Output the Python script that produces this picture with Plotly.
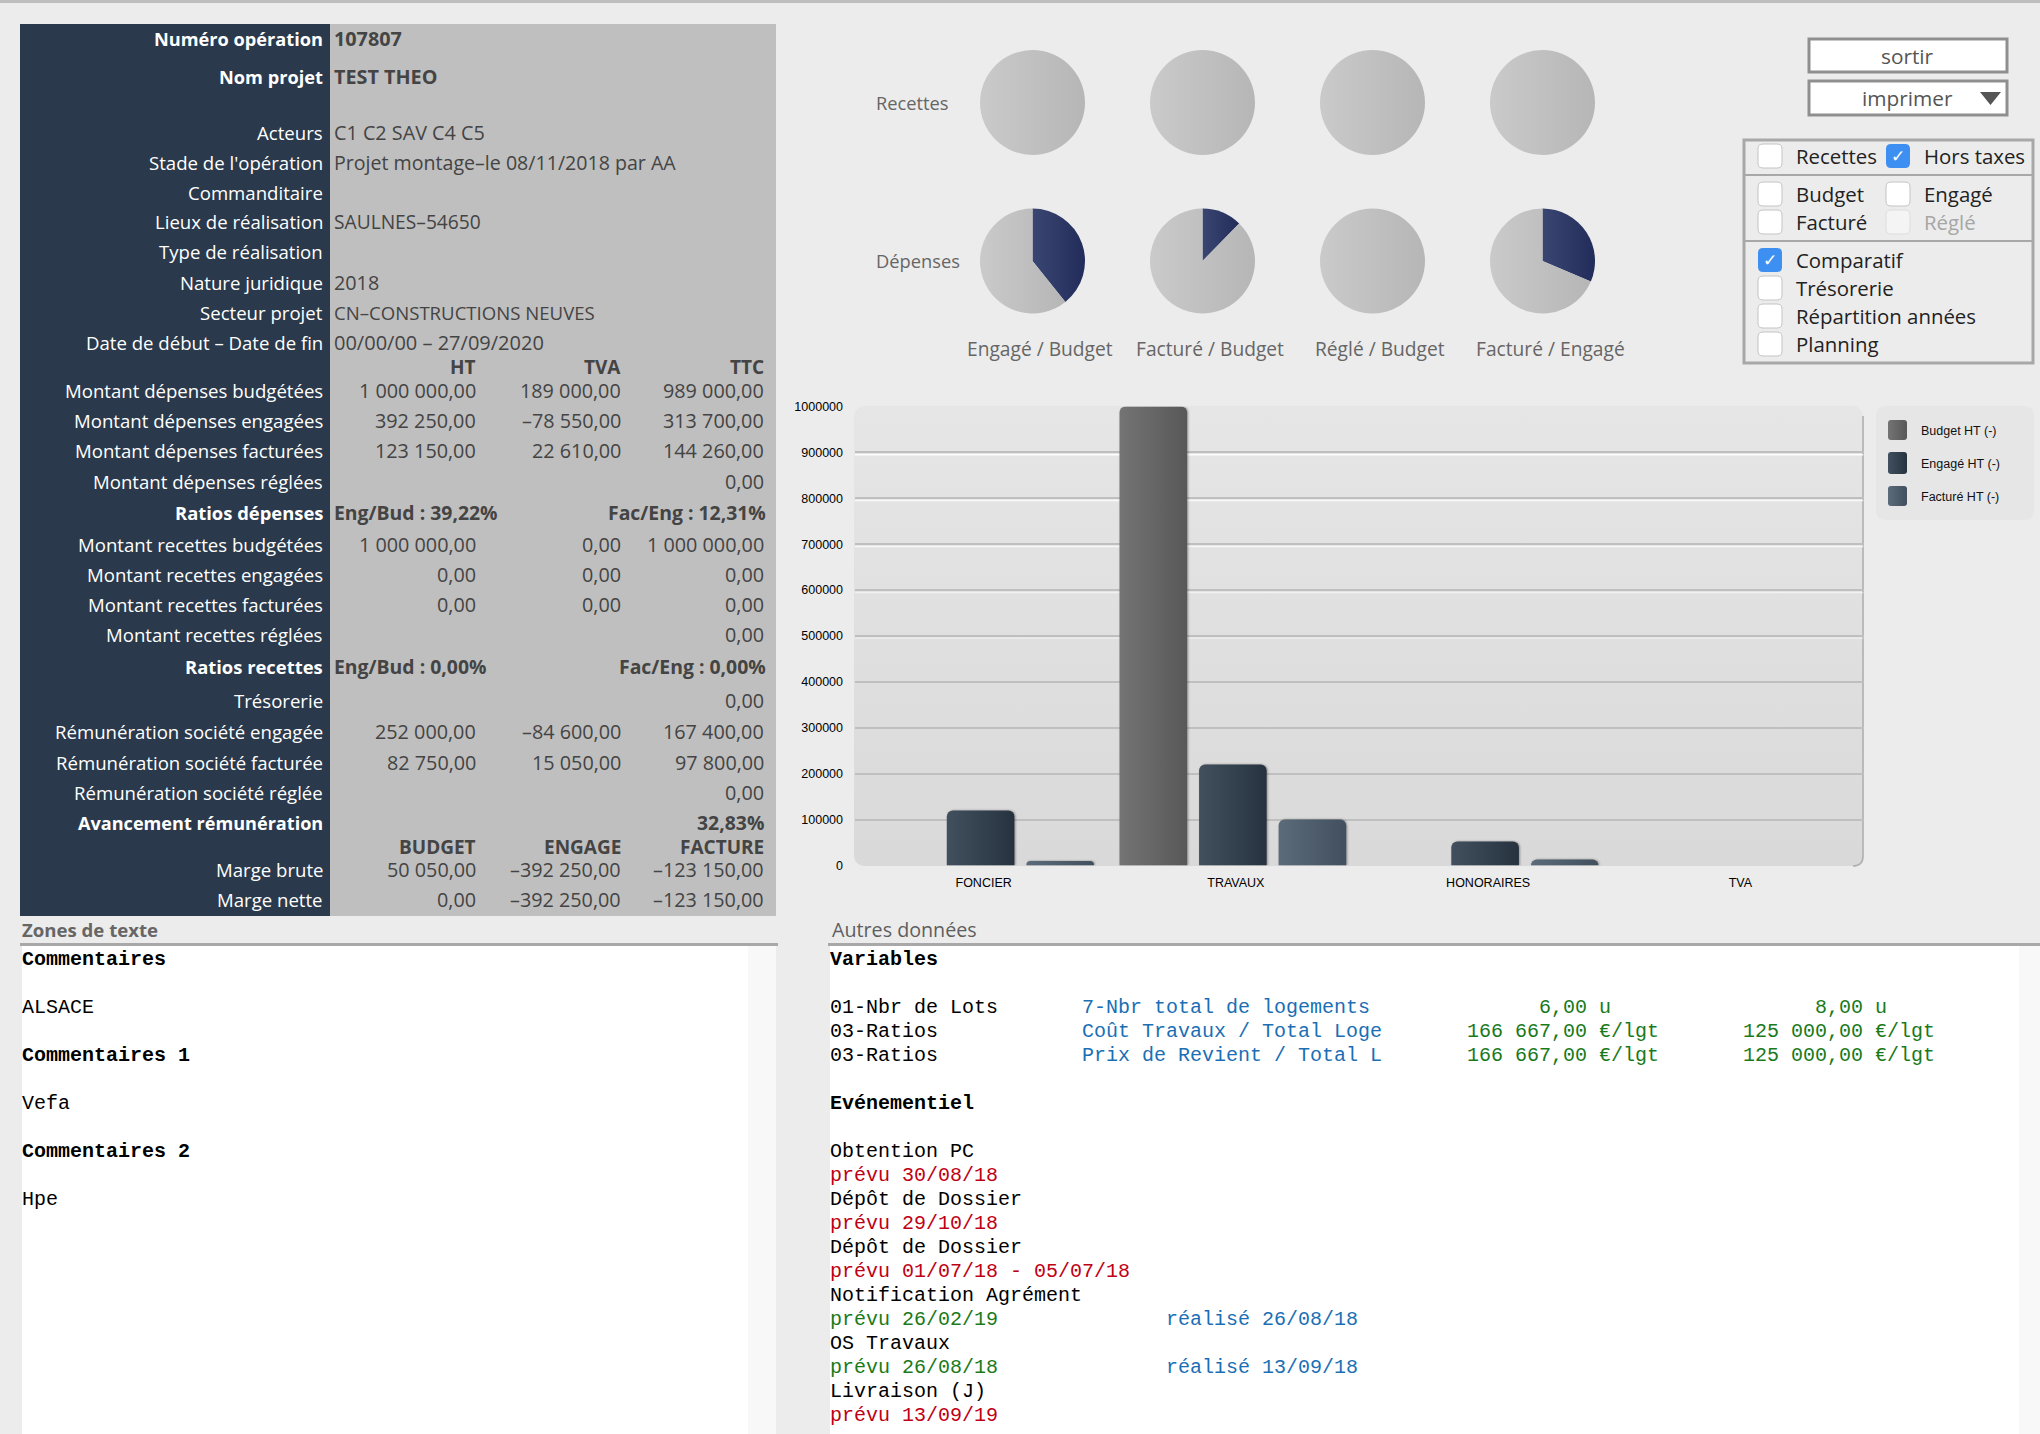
import base64
import plotly.graph_objects as go

W = 2040
H = 1434
SANS = "Open Sans"
MONO = "Liberation Mono"
ARIAL = "Liberation Sans"

# bar chart
categories = ["FONCIER", "TRAVAUX", "HONORAIRES", "TVA"]
budget_ht = [0, 1000000, 0, 0]
engage_ht = [120000, 220000, 52250, 0]
facture_ht = [10000, 100000, 13150, 0]
bar_names = ["Budget HT (-)", "Engagé HT (-)", "Facturé HT (-)"]
bar_colors = ["#666666", "#344250", "#4e5d6c"]
y_ticks = [0, 100000, 200000, 300000, 400000, 500000, 600000, 700000, 800000, 900000, 1000000]

# pies
pie_names = ["Engagé / Budget", "Facturé / Budget", "Réglé / Budget", "Facturé / Engagé"]
recettes_ratio = [0, 0, 0, 0]
depenses_ratio = [39.22, 12.31, 0, 31.4]

# table, top block
info_labels = ["Numéro opération", "Nom projet", "Acteurs", "Stade de l'opération", "Commanditaire",
               "Lieux de réalisation", "Type de réalisation", "Nature juridique", "Secteur projet",
               "Date de début – Date de fin"]
info_values = ["107807", "TEST THEO", "C1 C2 SAV C4 C5", "Projet montage–le 08/11/2018 par AA", "",
               "SAULNES–54650", "", "2018", "CN–CONSTRUCTIONS NEUVES", "00/00/00 – 27/09/2020"]
info_sizes = [19.8, 19.8, 19.8, 19.6, 19.8, 19.2, 19.8, 19.8, 18.6, 20]
info_y = [40, 78, 134, 164, 194, 223, 253, 284, 314, 344]

# table, amounts
amount_labels = ["Montant dépenses budgétées", "Montant dépenses engagées", "Montant dépenses facturées",
                 "Montant dépenses réglées", "Montant recettes budgétées", "Montant recettes engagées",
                 "Montant recettes facturées", "Montant recettes réglées", "Trésorerie",
                 "Rémunération société engagée", "Rémunération société facturée", "Rémunération société réglée",
                 "Marge brute", "Marge nette"]
amount_col1 = ["1 000 000,00", "392 250,00", "123 150,00", "", "1 000 000,00", "0,00", "0,00", "",
               "", "252 000,00", "82 750,00", "", "50 050,00", "0,00"]
amount_col2 = ["189 000,00", "–78 550,00", "22 610,00", "", "0,00", "0,00", "0,00", "",
               "", "–84 600,00", "15 050,00", "", "–392 250,00", "–392 250,00"]
amount_col3 = ["989 000,00", "313 700,00", "144 260,00", "0,00", "1 000 000,00", "0,00", "0,00", "0,00",
               "0,00", "167 400,00", "97 800,00", "0,00", "–123 150,00", "–123 150,00"]
amount_y = [392, 422, 452, 483, 546, 576, 606, 636, 702, 733, 764, 794, 871, 901]
col_right = [476, 621, 764]

header_top = ["HT", "TVA", "TTC"]
header_bottom = ["BUDGET", "ENGAGE", "FACTURE"]

# right hand checkboxes
check_labels = ["Recettes", "Hors taxes", "Budget", "Engagé", "Facturé", "Réglé",
                "Comparatif", "Trésorerie", "Répartition années", "Planning"]
check_on = [False, True, False, False, False, False, True, False, False, False]
check_x = [1770, 1898, 1770, 1898, 1770, 1898, 1770, 1770, 1770, 1770]
check_y = [156, 156, 194, 194, 222, 222, 260, 288, 316, 344]

# text zones
comment_lines = ["Commentaires", "ALSACE", "Commentaires 1", "Vefa", "Commentaires 2", "Hpe"]
comment_y = [961, 1009, 1057, 1105, 1153, 1201]

var_names = ["01-Nbr de Lots", "03-Ratios", "03-Ratios"]
var_titles = ["7-Nbr total de logements", "Coût Travaux / Total Loge", "Prix de Revient / Total L"]
var_val1 = ["6,00 u", "166 667,00 €/lgt", "166 667,00 €/lgt"]
var_val2 = ["8,00 u", "125 000,00 €/lgt", "125 000,00 €/lgt"]
var_y = [1009, 1033, 1057]

event_names = ["Obtention PC", "Dépôt de Dossier", "Dépôt de Dossier", "Notification Agrément", "OS Travaux", "Livraison (J)"]
event_prevu = ["prévu 30/08/18", "prévu 29/10/18", "prévu 01/07/18 - 05/07/18", "prévu 26/02/19", "prévu 26/08/18", "prévu 13/09/19"]
event_real = ["", "", "", "réalisé 26/08/18", "réalisé 13/09/18", ""]
event_y = [1153, 1201, 1249, 1297, 1345, 1393]

annotations = []
shapes = []


def px(x):
    return x / W


def py(y):
    return 1 - y / H


def add_text(x, y, text, size=18.6, color="#444444", font=SANS, anchor="left", bold=False):
    if bold:
        text = "<b>" + text + "</b>"
    annotations.append(dict(x=px(x), y=py(y - 1.4), xref="paper", yref="paper", text=text, showarrow=False,
                            xanchor=anchor, yanchor="middle", borderpad=0, borderwidth=0,
                            font=dict(family=font, size=size, color=color)))


def add_rect(x0, y0, x1, y1, fill, line=None, width=0, layer="above"):
    shapes.append(dict(type="rect", xref="paper", yref="paper", x0=px(x0), x1=px(x1), y0=py(y0), y1=py(y1),
                       fillcolor=fill, layer=layer,
                       line=dict(color=line or fill, width=width)))


def add_round(x0, y0, x1, y1, r, fill, line=None, width=0):
    a, b, c, d = px(x0), px(x1), py(y0), py(y1)
    rx, ry = r / W, r / H
    path = (f"M {a + rx},{c} L {b - rx},{c} Q {b},{c} {b},{c - ry} L {b},{d + ry} Q {b},{d} {b - rx},{d} "
            f"L {a + rx},{d} Q {a},{d} {a},{d + ry} L {a},{c - ry} Q {a},{c} {a + rx},{c} Z")
    shapes.append(dict(type="path", xref="paper", yref="paper", path=path, fillcolor=fill,
                       line=dict(color=line or fill, width=width)))


# top rule
add_rect(0, 0, W, 3, "#bdbdbd")

# left table
add_rect(20, 24, 330, 916, "#2a394b")
add_rect(330, 24, 776, 916, "#bfbfbf")

for i, label in enumerate(info_labels):
    add_text(323, info_y[i], label, size=18.2 if i < 2 else 18.6, color="#ffffff", anchor="right", bold=i < 2)
    add_text(334, info_y[i], info_values[i], size=info_sizes[i], bold=i < 2)

for i, label in enumerate(amount_labels):
    add_text(323, amount_y[i], label, color="#ffffff", anchor="right")
    for col, right in zip([amount_col1, amount_col2, amount_col3], col_right):
        add_text(right, amount_y[i], col[i], size=19.8, anchor="right")

for right, top, bottom in zip(col_right, header_top, header_bottom):
    add_text(right, 368, top, size=19, anchor="right", bold=True)
    add_text(right, 848, bottom, size=19, anchor="right", bold=True)

add_text(323, 514, "Ratios dépenses", size=18.4, color="#ffffff", anchor="right", bold=True)
add_text(334, 514, "Eng/Bud : 39,22%", size=19.4, bold=True)
add_text(766, 514, "Fac/Eng : 12,31%", size=19.4, anchor="right", bold=True)
add_text(323, 668, "Ratios recettes", size=18.4, color="#ffffff", anchor="right", bold=True)
add_text(334, 668, "Eng/Bud : 0,00%", size=19.4, bold=True)
add_text(766, 668, "Fac/Eng : 0,00%", size=19.4, anchor="right", bold=True)
add_text(323, 824, "Avancement rémunération", size=18.1, color="#ffffff", anchor="right", bold=True)
add_text(764, 824, "32,83%", size=19.4, anchor="right", bold=True)

# pie captions
add_text(876, 104, "Recettes", size=18.3, color="#666666")
add_text(876, 262, "Dépenses", size=18.3, color="#666666")
for name, cx in zip(pie_names, [1040, 1210, 1380, 1550]):
    add_text(cx, 350, name, size=19.2, color="#666666", anchor="center")

# buttons
add_rect(1809, 39, 2007, 72, "#ffffff", "#8f8f8f", 3)
add_rect(1809, 81, 2007, 115, "#ffffff", "#8f8f8f", 3)
add_text(1907, 57, "sortir", size=20.8, color="#555555", anchor="center")
add_text(1907, 99, "imprimer", size=20.8, color="#555555", anchor="center")
shapes.append(dict(type="path", xref="paper", yref="paper", fillcolor="#555555", line=dict(width=0),
                   path=f"M {px(1980)},{py(92)} L {px(2001)},{py(92)} L {px(1990.5)},{py(105)} Z"))

# checkbox panel
add_rect(1744, 140, 2033, 363, "#ececec", "#a8a8a8", 3)
add_rect(1744, 174, 2033, 176, "#a8a8a8")
add_rect(1744, 240, 2033, 242, "#a8a8a8")
for i, label in enumerate(check_labels):
    cx, cy = check_x[i], check_y[i]
    disabled = label == "Réglé"
    if check_on[i]:
        add_round(cx - 12, cy - 12, cx + 12, cy + 12, 5, "#3d8ff2")
        add_text(cx, cy + 1, "✓", size=17, color="#ffffff", font="DejaVu Sans", anchor="center")
    else:
        add_round(cx - 12, cy - 12, cx + 12, cy + 12, 5, "#f4f4f4" if disabled else "#ffffff",
                  "#dddddd" if disabled else "#c4c4c4", 1)
    add_text(cx + 26, cy + 1, label, size=20.4, color="#a6a6a6" if disabled else "#222222")

# chart legend
add_round(1876, 406, 2034, 520, 10, "#e6e6e6")
for name, color, y0, y1 in zip(bar_names, bar_colors, [420, 452, 486], [440, 474, 506]):
    add_round(1888, y0, 1907, y1, 3, color)
    add_text(1921, (y0 + y1) / 2 + 2.5, name, size=12.5, color="#111111", font=ARIAL)

# text zones
add_text(22, 931, "Zones de texte", size=18.6, color="#666666", bold=True)
add_rect(20, 943, 778, 946, "#a8a8a8")
add_rect(22, 946, 748, H, "#ffffff")
add_rect(748, 946, 776, H, "#f8f8f8")
for i, line in enumerate(comment_lines):
    add_text(22, comment_y[i], line, size=20, color="#000000", font=MONO, bold=i % 2 == 0)

add_text(832, 931, "Autres données", size=19.7, color="#5e5e5e")
add_rect(828, 943, W, 946, "#a8a8a8")
add_rect(830, 946, 2019, H, "#ffffff")
add_rect(2019, 946, W, H, "#f8f8f8")

add_text(830, 961, "Variables", size=20, color="#000000", font=MONO, bold=True)
add_text(830, 1105, "Evénementiel", size=20, color="#000000", font=MONO, bold=True)
for i in range(len(var_names)):
    add_text(830, var_y[i], var_names[i], size=20, color="#000000", font=MONO)
    add_text(1082, var_y[i], var_titles[i], size=20, color="#1a6fb5", font=MONO)
    add_text(1467 if i else 1539, var_y[i], var_val1[i], size=20, color="#1a7a1a", font=MONO)
    add_text(1743 if i else 1815, var_y[i], var_val2[i], size=20, color="#1a7a1a", font=MONO)
for i in range(len(event_names)):
    add_text(830, event_y[i], event_names[i], size=20, color="#000000", font=MONO)
    add_text(830, event_y[i] + 24, event_prevu[i], size=20, color="#1a7a1a" if event_real[i] else "#c00014", font=MONO)
    add_text(1166, event_y[i] + 24, event_real[i], size=20, color="#1a6fb5", font=MONO)

# white highlight under the upper gridlines
for tick, alpha in zip([900000, 800000, 700000, 600000, 500000], [0.9, 0.8, 0.7, 0.55, 0.4]):
    shapes.append(dict(type="line", xref="x", yref="y", x0=-0.5, x1=3.5, y0=tick - 5000, y1=tick - 5000,
                       layer="below", line=dict(color=f"rgba(255,255,255,{alpha})", width=1.5)))

plot_bg = ('<svg xmlns="http://www.w3.org/2000/svg" width="1010" height="461">'
           '<defs><linearGradient id="g" x1="0" y1="0" x2="0" y2="1">'
           '<stop offset="0" stop-color="#e6e6e6"/><stop offset="1" stop-color="#d9d9d9"/>'
           '</linearGradient></defs>'
           '<rect x="0" y="0" width="1009" height="460" rx="10" fill="url(#g)"/>'
           '<path d="M1009 10 V450 Q1009 460 999 460" fill="none" stroke="#b0b0b0" stroke-width="1.6"/></svg>')
plot_bg_uri = "data:image/svg+xml;base64," + base64.b64encode(plot_bg.encode()).decode()

fig = go.Figure()

for name, values, color in zip(bar_names, [budget_ht, engage_ht, facture_ht], bar_colors):
    fig.add_trace(go.Bar(x=categories, y=values, name=name, marker=dict(color=color, line=dict(width=0)),
                         showlegend=False, xaxis="x", yaxis="y"))


def add_pie_row(ratios, center_y):
    for ratio, cx in zip(ratios, [1032.5, 1202.5, 1372.5, 1542.5]):
        fig.add_trace(go.Pie(values=[ratio, 100 - ratio], sort=False, direction="clockwise", rotation=0,
                             textinfo="none", hoverinfo="skip", showlegend=False,
                             marker=dict(colors=["#2c3764", "#c0c0c0"], line=dict(width=0)),
                             domain=dict(x=[px(cx - 52.5), px(cx + 52.5)],
                                         y=[py(center_y + 52.5), py(center_y - 52.5)])))


add_pie_row(recettes_ratio, 102.5)
add_pie_row(depenses_ratio, 261)

fig.update_layout(
    width=W,
    height=H,
    autosize=False,
    margin=dict(l=0, r=0, t=0, b=0, autoexpand=False),
    paper_bgcolor="#ececec",
    plot_bgcolor="rgba(0,0,0,0)",
    barmode="group",
    bargap=0.054,
    bargroupgap=0.15,
    barcornerradius=6,
    annotations=annotations,
    shapes=shapes,
    images=[dict(source=plot_bg_uri, xref="paper", yref="paper", x=px(854), y=py(406), sizex=1010 / W,
                 sizey=461 / H, sizing="stretch", xanchor="left", yanchor="top", layer="below")],
    xaxis=dict(domain=[px(854.5), px(1863.5)], anchor="y", range=[-0.5, 3.5], showgrid=False, zeroline=False,
               showline=False, automargin=False, ticks="outside", ticklen=5, tickcolor="rgba(0,0,0,0)",
               ticklabelshift=3,
               tickfont=dict(family=ARIAL, size=12.5, color="#000000")),
    yaxis=dict(domain=[py(865.5), py(406.5)], anchor="x", range=[0, 1000000], tickvals=y_ticks,
               tickformat="d", showline=False, zeroline=False, gridcolor="#bfbfbf", gridwidth=2,
               automargin=False, ticks="outside", ticklen=8, tickcolor="rgba(0,0,0,0)",
               tickfont=dict(family=ARIAL, size=12.5, color="#000000")),
)

# plotly has no gradient fill for bars and pies, so swap the flat fills once drawn
gradient_js = """
document.body.style.margin = '0';
var gd = document.getElementById('{plot_id}');
var svg = gd.querySelector('svg.main-svg');
var ramps = {
  'rgb(102, 102, 102)': ['#747474', '#585858'],
  'rgb(52, 66, 80)': ['#424f5e', '#26333f'],
  'rgb(78, 93, 108)': ['#5c6b7a', '#414f5e'],
  'rgb(44, 55, 100)': ['#3a4672', '#222c5a'],
  'rgb(192, 192, 192)': ['#cacaca', '#b6b6b6']
};
var defs = document.createElementNS('http://www.w3.org/2000/svg', 'defs');
var ids = {};
Object.keys(ramps).forEach(function (key, n) {
  var g = document.createElementNS('http://www.w3.org/2000/svg', 'linearGradient');
  g.setAttribute('id', 'ramp' + n);
  ramps[key].forEach(function (c, k) {
    var s = document.createElementNS('http://www.w3.org/2000/svg', 'stop');
    s.setAttribute('offset', k);
    s.setAttribute('stop-color', c);
    g.appendChild(s);
  });
  defs.appendChild(g);
  ids[key] = 'url(#ramp' + n + ')';
});
svg.appendChild(defs);
gd.querySelectorAll('path').forEach(function (p) {
  var id = ids[p.style.fill];
  if (!id) return;
  p.style.fill = id;
  if (p.closest('.barlayer')) p.style.filter = 'drop-shadow(1px 0px 1px rgba(0,0,0,0.35))';
});
"""

fig.write_html("out.html", config=dict(displayModeBar=False), post_script=gradient_js)
